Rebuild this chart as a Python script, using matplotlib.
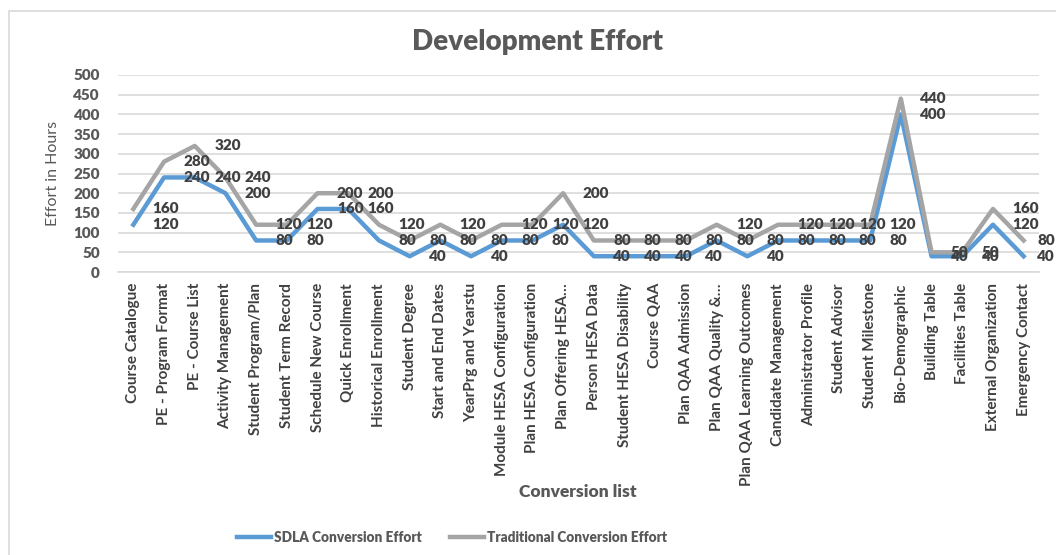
import matplotlib
matplotlib.use("Agg")
import matplotlib.pyplot as plt
from matplotlib import font_manager
from matplotlib.patches import Rectangle
from matplotlib.lines import Line2D

fl = font_manager.fontManager.ttflist
def has_bold(name):
    return any(f.name == name and (f.weight if isinstance(f.weight, int) else 700) >= 700 for f in fl)
MAIN = next((n for n in ['Lato', 'Open Sans', 'Roboto', 'Liberation Sans'] if has_bold(n)), 'DejaVu Sans')
names = {f.name for f in fl}
NARROW = 'Liberation Sans Narrow' if 'Liberation Sans Narrow' in names else MAIN

categories = [
    "Course Catalogue", "PE - Program Format", "PE - Course List", "Activity Management",
    "Student Program/Plan", "Student Term Record", "Schedule New Course", "Quick Enrollment",
    "Historical Enrollment", "Student Degree", "Start and End Dates", "YearPrg and Yearstu",
    "Module HESA Configuration", "Plan HESA Configuration", "Plan Offering HESA\u2026",
    "Person HESA Data", "Student HESA Disability", "Course QAA", "Plan QAA Admission",
    "Plan QAA Quality &\u2026", "Plan QAA Learning Outcomes", "Candidate Management",
    "Administrator Profile", "Student Advisor", "Student Milestone", "Bio-Demographic",
    "Building Table", "Facilities Table", "External Organization", "Emergency Contact",
]
sdla = [120, 240, 240, 200, 80, 80, 160, 160, 80, 40, 80, 40, 80, 80, 120,
        40, 40, 40, 40, 80, 40, 80, 80, 80, 80, 400, 40, 40, 120, 40]
traditional = [160, 280, 320, 240, 120, 120, 200, 200, 120, 80, 120, 80, 120, 120, 200,
               80, 80, 80, 80, 120, 80, 120, 120, 120, 120, 440, 50, 50, 160, 80]
yticks = [0, 50, 100, 150, 200, 250, 300, 350, 400, 450, 500]

BLUE = '#5B9BD5'
GRAY = '#A5A5A5'
TXT = '#595959'
LBL = '#404040'
WEIGHT = 'heavy'

W, H = 1056, 555
fig = plt.figure(figsize=(W / 100, H / 100), dpi=100)
fig.patch.set_facecolor('white')
# chart frame
fig.patches.append(Rectangle((9 / W, -0.1), 1.2, 1 - 11 / H + 0.1, transform=fig.transFigure,
                             fill=False, edgecolor='#D9D9D9', linewidth=1.2))

ax = fig.add_axes([118 / W, 1 - 272 / H, (1039 - 118) / W, (272 - 75) / H])
x = list(range(len(categories)))
ax.plot(x, sdla, color=BLUE, lw=3.2, solid_joinstyle='round', zorder=3)
ax.plot(x, traditional, color=GRAY, lw=3.2, solid_joinstyle='round', zorder=3)

anns = []
for series in (traditional, sdla):
    for xi, v in zip(x, series):
        a = ax.annotate(str(v), (xi, v), xytext=(14, 0), textcoords='offset points',
                        ha='left', va='center', fontsize=11, fontweight=WEIGHT, color=LBL,
                        family=MAIN, zorder=4, annotation_clip=False)
        anns.append(a)

ax.set_xlim(-0.5, len(categories) - 0.5)
ax.set_ylim(0, 500)
ax.set_yticks(yticks)
ax.set_yticklabels([str(t) for t in yticks], fontsize=11, fontweight=WEIGHT, color=TXT, family=MAIN)
ax.set_xticks(x)
ax.set_xticklabels(categories, rotation=90, fontsize=11, fontweight='bold', color=LBL, family=NARROW)
ax.tick_params(axis='y', length=0, pad=13)
ax.tick_params(axis='x', length=0, pad=8)
ax.grid(axis='y', color='#D9D9D9', lw=1.2)
ax.set_axisbelow(True)
for s in ['top', 'right', 'left']:
    ax.spines[s].set_visible(False)
ax.spines['bottom'].set_color('#D9D9D9')
ax.spines['bottom'].set_linewidth(1.2)

ax.set_ylabel('Effort in Hours', fontsize=11.5, color=TXT, family=MAIN)
ax.yaxis.set_label_coords(-58 / (1039 - 118), 0.5)

fig.text(537 / W, 1 - 42 / H, 'Development Effort', ha='center', va='center',
         fontsize=20, fontweight=WEIGHT, color=TXT, family=MAIN)
fig.text(578 / W, 1 - 492 / H, 'Conversion list', ha='center', va='center',
         fontsize=12.5, fontweight=WEIGHT, color=TXT, family=MAIN)

handles = [Line2D([0], [0], color=BLUE, lw=3.2), Line2D([0], [0], color=GRAY, lw=3.2)]
leg = fig.legend(handles, ['SDLA Conversion Effort', 'Traditional Conversion Effort'],
                 loc='center', bbox_to_anchor=(452 / W, 1 - 537 / H), ncol=2, frameon=False,
                 handlelength=2.5, handletextpad=0.2, columnspacing=2.1,
                 prop={'family': MAIN, 'weight': WEIGHT, 'size': 9.8})
for t in leg.get_texts():
    t.set_color(TXT)

# keep data labels inside the chart area (as the spreadsheet does)
fig.canvas.draw()
r = fig.canvas.get_renderer()
for a in anns:
    bb = a.get_window_extent(r)
    over = bb.x1 - (W - 1)
    if over > 0:
        a.set_position((14 - over * 72 / 100, 0))

fig.savefig('out.png', dpi=100, facecolor='white')
